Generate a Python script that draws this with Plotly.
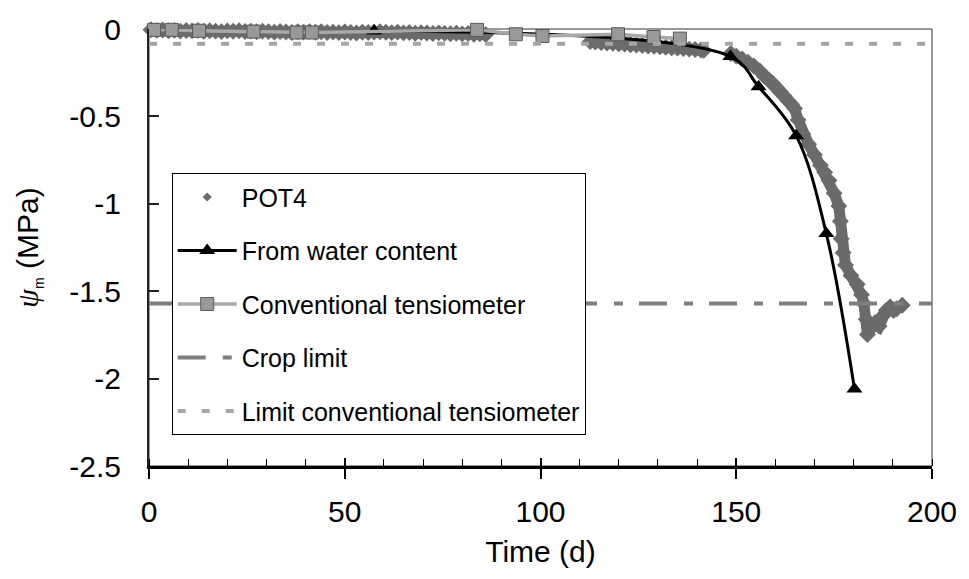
import plotly.graph_objects as go

# ---------------- data ----------------
# POT4 (dense logged series, None = gap in the record)
pot4_x = [0.5, 2, 3.5, 5, 6.5, 8, 9.5, 11, 12.5, 14, 15.5, 17, 18.5, 20, 21.5, 23, 24.5, 26,
          27.5, 29, 30.5, 32, 33.5, 35, 36.5, 38, 39.5, 41, 42.5, 44, 45.5, 47, 48.5, 50,
          51.5, 53, 54.5, 56, 57.5, 59, 60.5, 62, 63.5, 65, 66.5, 68, 69.5, 71, 72.5, 74,
          75.5, 77, 78.5, 80, 81.5, 83, 84.5, 86,
          None,
          112.7, 114, 115.5, 117, 118.5, 120, 121.5, 123, 124.5, 126, 127.5, 129, 130.5,
          132, 133.5, 135, 136.5, 138, 139.5, 141, 141.7,
          None,
          148.6, 150, 151.5, 153, 154.5, 156, 157.2, 158.3, 159.3, 160.3, 161.3, 162.3,
          163.2, 164.1, 164.9, 165.8, 167, 168.5, 170, 171.5, 172.6, 173.7, 175, 176.2,
          176.6, 176.8, 177.3, 177.9, 179.3, 180.9, 182, 182.6, 183.2, 183.5, 184.5, 185.5,
          186.5, 187.5, 188.3, 189.3, 190.2, 191, 192.4]
pot4_y = [-0.004, -0.008, -0.006, -0.01, -0.008, -0.012, -0.009, -0.011, -0.008, -0.013,
          -0.01, -0.012, -0.015, -0.011, -0.013, -0.01, -0.014, -0.012, -0.016, -0.013,
          -0.015, -0.018, -0.014, -0.017, -0.02, -0.016, -0.018, -0.015, -0.019, -0.016,
          -0.02, -0.018, -0.021, -0.017, -0.02, -0.023, -0.019, -0.02, -0.018, -0.016,
          -0.019, -0.021, -0.018, -0.022, -0.02, -0.024, -0.021, -0.023, -0.026, -0.022,
          -0.025, -0.027, -0.024, -0.028, -0.026, -0.03, -0.027, -0.032,
          None,
          -0.072, -0.075, -0.077, -0.08, -0.082, -0.085, -0.086, -0.09, -0.092, -0.094,
          -0.097, -0.099, -0.102, -0.104, -0.107, -0.109, -0.112, -0.115, -0.117, -0.12,
          -0.122,
          None,
          -0.14, -0.155, -0.172, -0.19, -0.212, -0.24, -0.27, -0.29, -0.31, -0.335, -0.36,
          -0.385, -0.41, -0.43, -0.455, -0.52, -0.6, -0.66, -0.72, -0.78, -0.82, -0.867,
          -0.94, -1.013, -1.1, -1.2, -1.28, -1.35, -1.41, -1.46, -1.52, -1.57, -1.66,
          -1.748, -1.71, -1.68, -1.7, -1.64, -1.61, -1.59, -1.61, -1.6, -1.58]

# From water content
wc_x = [57.5, 148.5, 155.7, 165.3, 173.0, 180.2]
wc_y = [-0.012, -0.158, -0.33, -0.61, -1.17, -2.06]

# Conventional tensiometer
ct_x = [1.3, 5.8, 12.8, 26.7, 37.7, 41.6, 83.8, 93.7, 100.5, 119.8, 128.9, 135.6]
ct_y = [-0.005, -0.005, -0.01, -0.015, -0.02, -0.02, -0.005, -0.03, -0.04, -0.03, -0.046, -0.055]

# Horizontal limits
crop_x = [0, 200]
crop_y = [-1.57, -1.57]
lim_x = [0, 200]
lim_y = [-0.085, -0.085]

# Axis ticks
x_ticks = [0, 50, 100, 150, 200]
x_ticktext = ["0", "50", "100", "150", "200"]
y_ticks = [0, -0.5, -1, -1.5, -2, -2.5]
y_ticktext = ["0", "-0.5", "-1", "-1.5", "-2", "-2.5"]

FONT = "Liberation Sans, Arial, sans-serif"
POT_COLOR = "#6b6b6b"

fig = go.Figure()

# POT4 dense band (line + large markers through the logged points) - not in legend
fig.add_trace(go.Scatter(
    x=pot4_x, y=pot4_y, mode="lines+markers", connectgaps=False,
    line=dict(color=POT_COLOR, width=11),
    marker=dict(symbol="diamond", size=13, color=POT_COLOR),
    showlegend=False, hoverinfo="skip", legendgroup="g0", cliponaxis=False))
# POT4 (legend entry, small diamonds)
fig.add_trace(go.Scatter(
    x=pot4_x, y=pot4_y, mode="markers", name="POT4", legendgroup="g0",
    marker=dict(symbol="diamond", size=7, color=POT_COLOR), cliponaxis=False))

# From water content
fig.add_trace(go.Scatter(
    x=wc_x, y=wc_y, mode="lines+markers", name="From water content", legendgroup="g1",
    line=dict(color="black", width=3, shape="spline", smoothing=1.0),
    marker=dict(symbol="triangle-up", size=14, color="black"), cliponaxis=False))

# Conventional tensiometer
fig.add_trace(go.Scatter(
    x=ct_x, y=ct_y, mode="lines+markers", name="Conventional tensiometer", legendgroup="g2",
    line=dict(color="#a8a8a8", width=3.5),
    marker=dict(symbol="square", size=13, color="#999999",
                line=dict(color="#5a5a5a", width=1)), cliponaxis=False))

# Crop limit
fig.add_trace(go.Scatter(
    x=crop_x, y=crop_y, mode="lines", name="Crop limit", legendgroup="g3",
    line=dict(color="#7f7f7f", width=4, dash="28px,17px,9px,16px")))

# Limit conventional tensiometer
fig.add_trace(go.Scatter(
    x=lim_x, y=lim_y, mode="lines", name="Limit conventional tensiometer", legendgroup="g4",
    line=dict(color="#a6a6a6", width=4, dash="8px,16px")))

fig.update_layout(
    width=969, height=579,
    margin=dict(l=149, r=34, t=18, b=113, pad=0),
    paper_bgcolor="white", plot_bgcolor="white",
    font=dict(family=FONT, size=30, color="black"),
    showlegend=True,
    legend=dict(
        x=0.029, y=0.67, xanchor="left", yanchor="top",
        bgcolor="white", bordercolor="black", borderwidth=1,
        font=dict(family=FONT, size=25, color="black"),
        traceorder="grouped", tracegroupgap=18, itemwidth=59,
    ),
    xaxis=dict(
        range=[0, 200], tickvals=x_ticks, ticktext=x_ticktext,
        ticks="outside", ticklen=10, tickwidth=1.5, tickcolor="black",
        minor=dict(dtick=10, ticks="inside", ticklen=7, tickwidth=1, tickcolor="black"),
        showline=True, linecolor="black", linewidth=2.5,
        showgrid=False, zeroline=False,
        ticklabelstandoff=7,
        tickfont=dict(size=30),
        title=dict(text="Time (d)", font=dict(size=30), standoff=15),
    ),
    xaxis2=dict(
        range=[0, 200], overlaying="x", anchor="y", side="bottom",
        tickvals=x_ticks, showticklabels=False,
        ticks="inside", ticklen=8, tickwidth=1.5, tickcolor="black",
        showline=False, showgrid=False, zeroline=False,
    ),
    yaxis=dict(
        range=[-2.5, 0], tickvals=y_ticks, ticktext=y_ticktext,
        ticks="inside", ticklen=10, tickwidth=1.5, tickcolor="#222222",
        showline=True, linecolor="#222222", linewidth=2,
        showgrid=False, zeroline=False,
        ticklabelstandoff=20,
        tickfont=dict(size=30),
        title=dict(
            text='<span style="font-family:Liberation Serif;font-style:italic">ψ</span>'
                 '<sub><span style="font-size:14px">m</span></sub> (MPa)',
            font=dict(size=30), standoff=22),
    ),
    shapes=[dict(type="rect", xref="paper", yref="paper", x0=0, x1=1, y0=0, y1=1,
                 line=dict(color="#333333", width=1), layer="below")],
)

# helper trace so that the overlay axis (inside half of the major x ticks) is drawn
fig.add_trace(go.Scatter(x=[None], y=[None], xaxis="x2", yaxis="y", showlegend=False,
                         hoverinfo="skip"))

fig.write_html("out.html")
